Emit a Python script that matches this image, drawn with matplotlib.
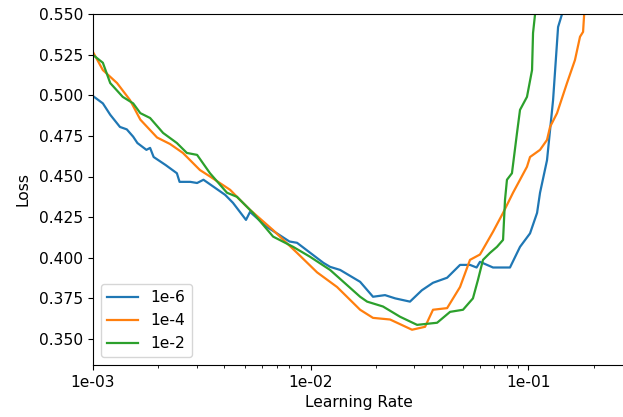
import numpy as np
import matplotlib
matplotlib.use("Agg")
import matplotlib.pyplot as plt
from matplotlib.ticker import FuncFormatter, MultipleLocator

# valeurs (learning rate, loss)
lr_a = [0.00100, 0.00111, 0.00120, 0.00133, 0.00143, 0.00153, 0.00160, 0.00176,
        0.00183, 0.00190, 0.00216, 0.00243, 0.00250, 0.00280, 0.00301, 0.00322,
        0.00359, 0.00405, 0.00440, 0.00505, 0.00527, 0.00630, 0.00800, 0.00867,
        0.01145, 0.01230, 0.01368, 0.01690, 0.01937, 0.02200, 0.02450, 0.02865,
        0.03250, 0.03656, 0.04245, 0.04867, 0.05408, 0.05800, 0.06011, 0.06900,
        0.08258, 0.09183, 0.1021, 0.1100, 0.1135, 0.1222, 0.1303, 0.1374, 0.1433,
        0.1480]
loss_a = [0.4995, 0.4950, 0.4880, 0.4805, 0.4790, 0.4745, 0.4706, 0.4664,
          0.4676, 0.4620, 0.4570, 0.4520, 0.4467, 0.4467, 0.4460, 0.4480,
          0.4436, 0.4387, 0.4338, 0.4233, 0.4282, 0.4190, 0.4100, 0.4092,
          0.3969, 0.3944, 0.3925, 0.3852, 0.3760, 0.3770, 0.3750, 0.3730,
          0.3800, 0.3846, 0.3877, 0.3956, 0.3956, 0.3940, 0.3975, 0.3940,
          0.3940, 0.4067, 0.4150, 0.4276, 0.4400, 0.4600, 0.4970, 0.5420, 0.5500,
          0.5700]

lr_b = [0.00100, 0.00111, 0.00129, 0.00148, 0.00165, 0.00197, 0.00226, 0.00259,
        0.00310, 0.00345, 0.00427, 0.00474, 0.00527, 0.00673, 0.00867, 0.01072,
        0.01324, 0.01690, 0.01937, 0.02320, 0.02928, 0.03361, 0.03656, 0.04245,
        0.04867, 0.05408, 0.06011, 0.06900, 0.07674, 0.08527, 0.09183, 0.09885,
        0.1021, 0.1135, 0.1222, 0.1262, 0.1359, 0.1510, 0.1643, 0.1733, 0.1790,
        0.1850]
loss_b = [0.5266, 0.5155, 0.5075, 0.4970, 0.4850, 0.4740, 0.4700, 0.4645,
          0.4540, 0.4500, 0.4418, 0.4356, 0.4295, 0.4170, 0.4030, 0.3910,
          0.3820, 0.3680, 0.3630, 0.3620, 0.3557, 0.3575, 0.3680, 0.3690,
          0.3820, 0.3987, 0.4020, 0.4160, 0.4276, 0.4400, 0.4480, 0.4560,
          0.4620, 0.4664, 0.4725, 0.4805, 0.4890, 0.5075, 0.5217, 0.5360, 0.5390,
          0.5700]

lr_c = [0.00100, 0.00111, 0.00120, 0.00137, 0.00153, 0.00165, 0.00183, 0.00210,
        0.00243, 0.00270, 0.00301, 0.00345, 0.00413, 0.00459, 0.00544, 0.00673,
        0.00832, 0.00995, 0.01230, 0.01690, 0.01820, 0.02153, 0.02579, 0.03089,
        0.03818, 0.04380, 0.05023, 0.05579, 0.05884, 0.06206, 0.06683, 0.07195,
        0.07674, 0.07834, 0.07998, 0.08431, 0.08895, 0.09183, 0.09885, 0.1043,
        0.1054, 0.1077, 0.1100]
loss_c = [0.5248, 0.5200, 0.5075, 0.4990, 0.4950, 0.4890, 0.4860, 0.4768,
          0.4706, 0.4645, 0.4633, 0.4520, 0.4400, 0.4375, 0.4276, 0.4130,
          0.4067, 0.4006, 0.3925, 0.3760, 0.3730, 0.3700, 0.3637, 0.3587,
          0.3600, 0.3667, 0.3680, 0.3750, 0.3864, 0.3987, 0.4030, 0.4067,
          0.4110, 0.4356, 0.4480, 0.4520, 0.4768, 0.4910, 0.4990, 0.5155,
          0.5383, 0.5500, 0.5700]

labels = ["1e-6", "1e-4", "1e-2"]

plt.rcParams['font.size'] = 11.2

fig = plt.figure(figsize=(6.23, 4.17), dpi=100)
ax = fig.add_axes([93 / 623, 52 / 417, 532 / 623, 351 / 417])

ax.plot(lr_a, loss_a, label=labels[0], lw=1.6)
ax.plot(lr_b, loss_b, label=labels[1], lw=1.6)
ax.plot(lr_c, loss_c, label=labels[2], lw=1.6)

ax.set_xscale("log")
ax.set_xlim(0.001, 0.279)
ax.set_ylim(0.334, 0.55)
ax.yaxis.set_major_locator(MultipleLocator(0.025))
ax.yaxis.set_major_formatter(FuncFormatter(lambda v, p: "{:.3f}".format(v)))
ax.xaxis.set_major_formatter(FuncFormatter(lambda v, p: "{:.0e}".format(v)))

ax.set_xlabel("Learning Rate")
ax.set_ylabel("Loss", labelpad=6)
ax.legend(loc="lower left")

fig.savefig("out.png", dpi=100)
